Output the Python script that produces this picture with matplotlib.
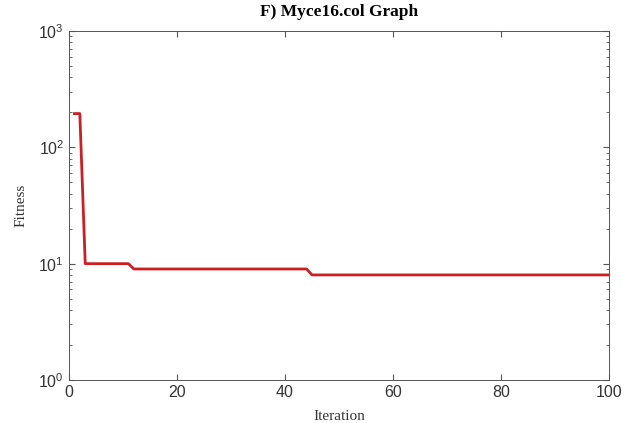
import matplotlib
matplotlib.use('Agg')
import matplotlib.pyplot as plt

plt.rcParams['font.family'] = 'Liberation Sans'
plt.rcParams['mathtext.fontset'] = 'custom'
plt.rcParams['mathtext.rm'] = 'Liberation Sans'
plt.rcParams['mathtext.it'] = 'Liberation Sans:italic'

# best fitness per iteration (piecewise constant)
iterations = list(range(1, 101))
fitness = [195, 195] + [10] * 9 + [9] * 33 + [8] * 56

fig = plt.figure(figsize=(6.35, 4.23), dpi=100)
ax = fig.add_axes([0.1087, 0.1017, 0.8503, 0.825])

ax.plot(iterations, fitness, color='#cc1f24', linewidth=2)

ax.set_yscale('log')
ax.set_xlim(0, 100)
ax.set_ylim(1, 1000)
ax.set_xticks([0, 20, 40, 60, 80, 100])

ax.tick_params(which='both', direction='in', top=True, right=True,
               colors='#555555', labelcolor='#333333', labelsize=11.5)
ax.tick_params(which='major', length=4)
ax.tick_params(which='minor', length=2)
for s in ax.spines.values():
    s.set_color('#555555')
    s.set_linewidth(0.7)

ax.set_title('F) Myce16.col Graph', fontfamily='Liberation Serif',
             fontweight='bold', fontsize=12.5, pad=11)
ax.set_xlabel('Iteration', fontfamily='Liberation Serif', fontsize=11,
              labelpad=7, color='#333333')
ax.set_ylabel('Fitness', fontfamily='Liberation Serif', fontsize=11,
              labelpad=8, color='#333333')

fig.savefig('out.png', dpi=100)
